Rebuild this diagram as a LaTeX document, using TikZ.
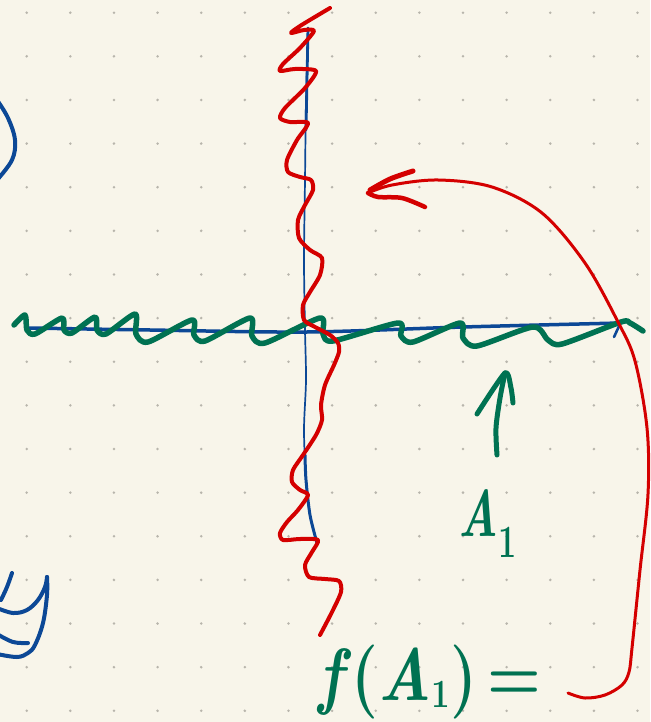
\documentclass[tikz,border=0pt]{standalone}
\usepackage{graphicx}
\definecolor{paper}{RGB}{248,245,234}
\definecolor{dotc}{RGB}{184,181,172}
\definecolor{penred}{RGB}{212,0,0}
\definecolor{pengreen}{RGB}{0,114,82}
\definecolor{penblue}{RGB}{12,72,150}
\tikzset{
  redpen/.style={draw=penred, line width=4pt, line cap=round, line join=round},
  redthin/.style={draw=penred, line width=3pt, line cap=round, line join=round},
  greenpen/.style={draw=pengreen, line width=5pt, line cap=round, line join=round},
  bluepen/.style={draw=penblue, line width=3.5pt, line cap=round, line join=round},
  bluethin/.style={draw=penblue, line width=1.7pt, line cap=round, line join=round},
  greentext/.style={anchor=base west, inner sep=0, text=pengreen},
}
\begin{document}
\begin{tikzpicture}[x=1pt, y=-1pt]
\useasboundingbox (0,0) rectangle (650,722);
\fill[paper] (0,0) rectangle (650,722);
% dot grid
\foreach \i in {0,...,14}{
  \foreach \j in {0,...,16}{
    \fill[dotc] ({26.7+43.63*\i},{12.7+43.63*\j}) circle (1.4);
  }
}
% blue scribbles at left edge
\draw[bluepen, line width=4pt] plot[smooth, tension=0.6] coordinates {(-3,100) (8,118) (15,140) (12,160) (-3,180)};
\draw[bluepen, line width=4pt] plot[smooth, tension=0.6] coordinates {(12,573) (7,587) (1,600)};
\draw[bluepen, line width=4pt] plot[smooth, tension=0.6] coordinates {(-3,608) (13,613) (27,610) (38,600) (45,587) (47,577)};
\draw[bluepen, line width=4pt] plot[smooth, tension=0.6] coordinates {(47,577) (47,595) (43,623) (35,645) (28,653) (17,657) (-3,654)};
\draw[bluepen, line width=4pt] plot[smooth, tension=0.6] coordinates {(-3,634) (13,642) (28,643)};
% blue axes
\draw[bluepen] plot[smooth, tension=0.5] coordinates {(28,328) (150,330) (307,332) (463,327) (620,323)};
\draw[bluepen, line width=2.6pt] (620,324) -- (614,337);
\draw[bluethin] plot[smooth, tension=0.5] coordinates {(308,28) (306,100) (305,180) (304,260) (305,330) (306,380) (304,430) (306,480) (310,515) (317,543)};
\draw[bluepen, line width=2.8pt] plot[smooth, tension=0.5] coordinates {(308,28) (307,80) (306,130)};
\draw[bluepen, line width=3pt] plot[smooth, tension=0.5] coordinates {(305,455) (306,480) (310,515) (317,543)};
% green wave
\draw[greenpen, line width=5.5pt] plot[smooth, tension=0.45] coordinates {
 (14,325) (25,315) (27,330) (35,334)
 (62,318) (64,330) (72,333)
 (95,317) (97,330) (106,334)
 (135,314) (136,334) (148,342)
 (192,320) (194,335) (205,341)
 (250,318) (252,336) (265,343)
 (320,318) (323,334) (333,341)
 (398,323) (401,336) (413,342)
 (460,323) (463,338) (477,346)
 (533,327) (548,340) (562,344)
 (621,322) (630,323) (643,331)};
% red zigzag
\draw[redpen] plot[smooth, tension=0.45] coordinates {
 (330,8) (300,26) (291,33) (304,30) (314,31) (300,48) (283,64) (280,71) (295,69) (316,71)
 (305,88) (285,108) (280,118) (290,122) (308,123) (297,140) (287,160) (288,172) (300,177)
 (311,180) (313,190) (305,205) (298,220) (299,238) (310,250) (322,258) (320,275) (310,292)
 (303,305) (304,320) (315,327) (330,335) (338,343) (339,352) (334,365) (325,385) (321,405)
 (322,420) (316,435) (303,455) (293,470) (292,482) (300,490) (308,495) (298,510) (287,522)
 (280,533) (283,540) (300,539) (318,540) (312,552) (305,565) (309,577) (325,579) (339,581)
 (341,592) (332,612) (320,635)};
% red arc arrow
\draw[redthin] plot[smooth, tension=0.55] coordinates {
 (568,693) (585,698) (605,695) (622,685) (629,672) (632,648) (640,570) (648,494) (647,428)
 (635,361) (618,322) (585,263) (542,213) (492,187) (438,180) (392,185) (368,193)};
\draw[redpen, line width=5pt] plot[smooth, tension=0.5] coordinates {(413,171) (390,179) (370,190)};
\draw[redpen, line width=4.5pt] plot[smooth, tension=0.5] coordinates {(368,193) (378,197) (402,198) (425,207)};
% green arrow
\draw[greenpen] plot[smooth, tension=0.5] coordinates {(497,455) (496,428) (500,398) (505,373)};
\draw[greenpen] plot[smooth, tension=0.4] coordinates {(477,414) (505,373) (511,388) (513,403)};
% labels
\node[greentext, font=\fontsize{66}{66}\selectfont\bfseries] (a1) at (458,536) {\scalebox{0.7}[1]{\textit{A}\textsubscript{1}}};
\node[greentext, font=\fontsize{74}{74}\selectfont\bfseries] (fa) at (318,700) {\scalebox{0.83}[1]{\textit{f}(\textit{A}\raisebox{-0.1em}{\fontsize{40}{40}\selectfont 1})\,=}};
\end{tikzpicture}
\end{document}
